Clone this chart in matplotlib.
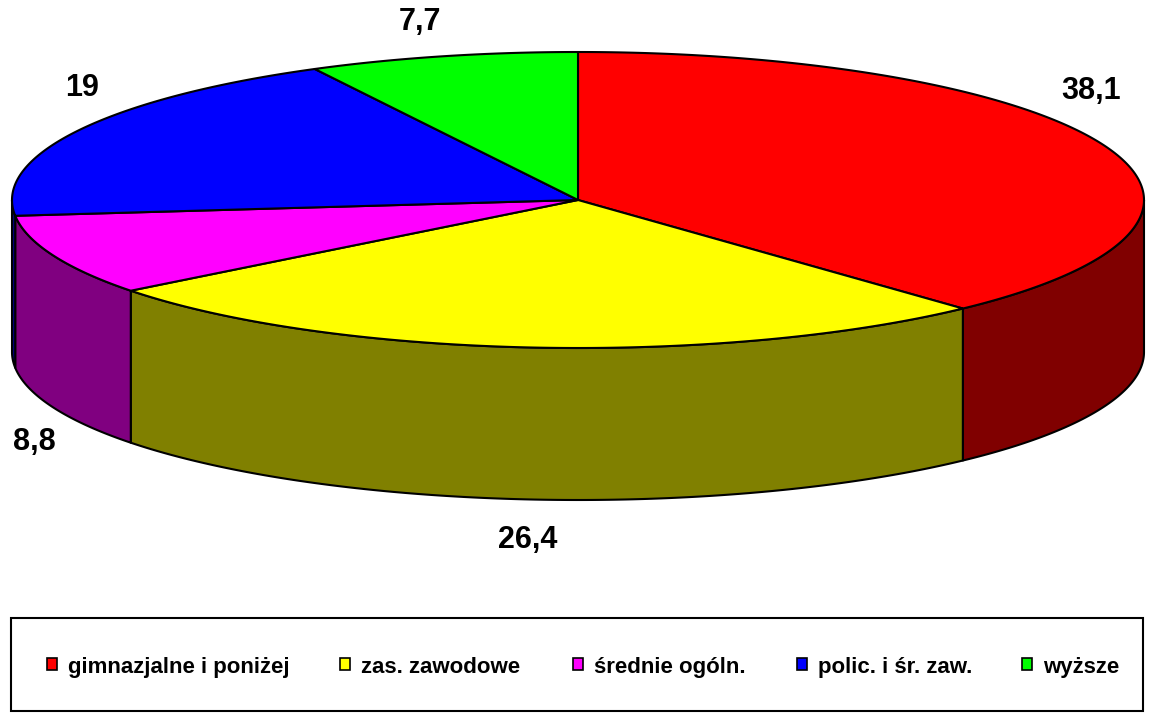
import numpy as np
import matplotlib
matplotlib.use("Agg")
import matplotlib.pyplot as plt
from matplotlib.patches import Polygon, Rectangle

# ---- data ----
categories = ["gimnazjalne i poniżej", "zas. zawodowe", "średnie ogóln.",
              "polic. i śr. zaw.", "wyższe"]
values = [38.1, 26.4, 8.8, 19, 7.7]
value_labels = ["38,1", "26,4", "8,8", "19", "7,7"]
top_colors = ["#FF0000", "#FFFF00", "#FF00FF", "#0000FF", "#00FF00"]
side_colors = ["#800000", "#808000", "#800080", "#000080", "#008000"]

# ---- layout (pixels) ----
W, H = 1150, 713
cx, cy = 578, 200
rx, ry = 566, 148
depth = 152
label_xy = [(1091, 91), (528, 540), (34, 442), (82, 88), (420, 22)]
legend_x = [47, 340, 573, 797, 1022]
legend_y = 664
legend_baseline = 673

plt.rcParams["font.family"] = ["Liberation Sans", "DejaVu Sans"]

fig = plt.figure(figsize=(W / 100, H / 100), dpi=100)
ax = fig.add_axes([0, 0, 1, 1])
ax.set_xlim(0, W)
ax.set_ylim(H, 0)
ax.axis("off")


def arc(t0, t1, dy=0.0, n=200):
    t = np.radians(np.linspace(t0, t1, n))
    return np.column_stack([cx + rx * np.cos(t), cy - ry * np.sin(t) + dy])


total = sum(values)
cum = np.concatenate([[0], np.cumsum(values)]) / total
starts = 90 - 360 * cum[:-1]
ends = 90 - 360 * cum[1:]

# sides (only the front half, angles between -180 and 0)
for a0, a1, col in zip(starts, ends, side_colors):
    lo, hi = max(a1, -180), min(a0, 0)
    if lo < hi:
        pts = np.vstack([arc(hi, lo), arc(lo, hi, dy=depth)])
        ax.add_patch(Polygon(pts, closed=True, facecolor=col, edgecolor="black",
                             lw=1.5, joinstyle="round"))

# tops
for a0, a1, col in zip(starts, ends, top_colors):
    pts = np.vstack([[cx, cy], arc(a0, a1)])
    ax.add_patch(Polygon(pts, closed=True, facecolor=col, edgecolor="black",
                         lw=1.5, joinstyle="round"))

for (x, y), lab in zip(label_xy, value_labels):
    ax.text(x, y, lab, ha="center", va="center", fontsize=22, fontweight="bold")

# legend
ax.add_patch(Rectangle((11, 618), 1132, 93, fill=False, edgecolor="black", lw=1.5))
for x, name, col in zip(legend_x, categories, top_colors):
    ax.add_patch(Rectangle((x, legend_y - 6), 10, 12, facecolor=col,
                           edgecolor="black", lw=1.2))
    ax.text(x + 21, legend_baseline, name, ha="left", va="baseline",
            fontsize=16, fontweight="bold")

fig.savefig("out.png", dpi=100)
